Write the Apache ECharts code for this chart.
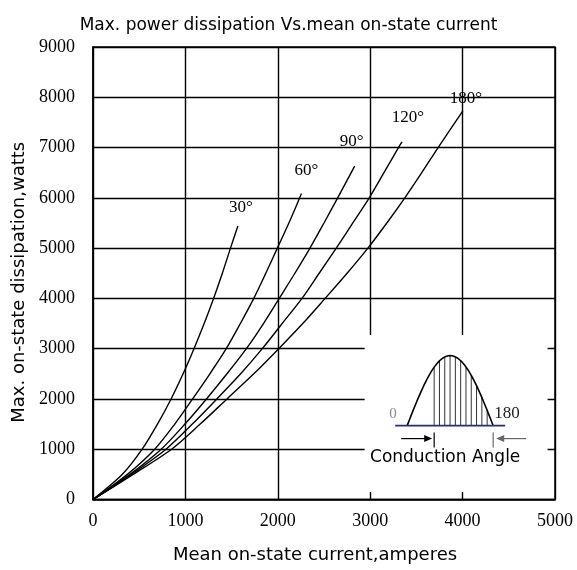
<!DOCTYPE html>
<html><head><meta charset="utf-8">
<script src="https://cdn.jsdelivr.net/npm/echarts@6/dist/echarts.min.js"></script>
<style>html,body{margin:0;padding:0;background:#fff}#c{width:577px;height:570px}</style>
</head><body><div id="c"></div>
<script>
// ---- data ----
const angleLabels = ['30°', '60°', '90°', '120°', '180°'];
const current30  = [0, 318, 532, 698, 845, 975, 1093, 1203, 1305, 1400, 1488, 1568];
const power30    = [0, 500, 1000, 1500, 2000, 2500, 3000, 3500, 4000, 4500, 5000, 5440];
const current60  = [0, 372, 668, 885, 1078, 1265, 1442, 1595, 1740, 1870, 1995, 2120, 2237, 2256];
const power60    = [0, 500, 1000, 1500, 2000, 2500, 3000, 3500, 4000, 4500, 5000, 5500, 6000, 6085];
const current90  = [0, 400, 738, 995, 1228, 1450, 1660, 1845, 2015, 2185, 2348, 2500, 2648, 2832];
const power90    = [0, 500, 1000, 1500, 2000, 2500, 3000, 3500, 4000, 4500, 5000, 5500, 6000, 6630];
const current120 = [0, 415, 790, 1075, 1340, 1598, 1832, 2047, 2262, 2448, 2633, 2812, 2990, 3149, 3306, 3344];
const power120   = [0, 500, 1000, 1500, 2000, 2500, 3000, 3500, 4000, 4500, 5000, 5500, 6000, 6500, 7000, 7113];
const current180 = [0, 435, 850, 1160, 1450, 1740, 2010, 2270, 2512, 2750, 2975, 3180, 3375, 3558, 3735, 4003];
const power180   = [0, 500, 1000, 1500, 2000, 2500, 3000, 3500, 4000, 4500, 5000, 5500, 6000, 6500, 7000, 7730];
const xTicks = [0, 1000, 2000, 3000, 4000, 5000];
const yTicks = [0, 1000, 2000, 3000, 4000, 5000, 6000, 7000, 8000, 9000];

const curves = [
  [current30, power30], [current60, power60], [current90, power90],
  [current120, power120], [current180, power180]
];
const labelOffsets = [[3, -10], [5, -15], [-3, -16], [6, -16], [3, -4]];

const serif = '"Liberation Serif", "DejaVu Serif", serif';
const sans = '"DejaVu Sans", "Liberation Sans", sans-serif';

const chart = echarts.init(document.getElementById('c'), null, {renderer: 'canvas'});

const series = curves.map(([xs, ys], k) => ({
  type: 'line',
  smooth: 0.3,
  symbol: 'none',
  lineStyle: {color: '#000', width: 1.4},
  endLabel: {
    show: true, formatter: angleLabels[k], distance: 0,
    align: 'center', verticalAlign: 'bottom', offset: labelOffsets[k],
    color: '#000', fontFamily: serif, fontSize: 17
  },
  data: xs.map((x, i) => [x, ys[i]])
}));

chart.setOption({
  animation: false,
  backgroundColor: '#fff',
  title: {
    text: 'Max. power dissipation Vs.mean on-state current',
    left: 'center', top: 12,
    textStyle: {fontFamily: sans, fontSize: 17, fontWeight: 'normal', color: '#000'}
  },
  grid: {left: 93, right: 22, top: 47, bottom: 70.5, show: true,
         borderColor: '#000', borderWidth: 1.5, backgroundColor: 'transparent'},
  xAxis: {
    type: 'value', min: xTicks[0], max: xTicks[xTicks.length - 1], interval: 1000,
    name: 'Mean on-state current,amperes', nameLocation: 'middle', nameGap: 47,
    nameTextStyle: {fontFamily: sans, fontSize: 18, color: '#000', padding: [0, 18, 0, 0]},
    axisLine: {lineStyle: {color: '#000', width: 1.5}},
    axisTick: {show: false},
    axisLabel: {margin: 13, fontFamily: serif, fontSize: 18, color: '#000',
                formatter: v => String(v), showMinLabel: true, showMaxLabel: true},
    splitLine: {lineStyle: {color: '#000', width: 1.4}}
  },
  yAxis: {
    type: 'value', min: yTicks[0], max: yTicks[yTicks.length - 1], interval: 1000,
    name: 'Max. on-state dissipation,watts', nameLocation: 'middle', nameGap: 60,
    nameTextStyle: {fontFamily: sans, fontSize: 18, color: '#000', padding: [0, 18, 0, 0]},
    axisLine: {lineStyle: {color: '#000', width: 1.5}},
    axisTick: {show: false},
    axisLabel: {margin: 18, fontFamily: serif, fontSize: 18, color: '#000',
                formatter: v => String(v)},
    splitLine: {lineStyle: {color: '#000', width: 1.4}}
  },
  series: series
});

// ---- inset diagram (conduction angle), placed via the axis scales ----
const tl = chart.convertToPixel({gridIndex: 0}, [2940, 3270]);
const br = chart.convertToPixel({gridIndex: 0}, [4920, 149]);
const org = chart.convertToPixel({gridIndex: 0}, [3400, 1470]); // start of pulse on baseline
const ox = org[0], oy = org[1];
const W = 86, H = 70;
const pts = [];
for (let i = 0; i <= 60; i++) {
  const t = i / 60;
  pts.push([ox + t * W, oy - H * Math.sin(Math.PI * t)]);
}
const hatch = [];
for (let x = ox + 27; x <= ox + W - 3; x += 5.3) {
  const t = (x - ox) / W;
  hatch.push({type: 'line', shape: {x1: x, y1: oy, x2: x, y2: oy - H * Math.sin(Math.PI * t)},
              style: {stroke: '#333', lineWidth: 1}, z: 101});
}
const g = [
  {type: 'rect', shape: {x: tl[0], y: tl[1], width: br[0] - tl[0], height: br[1] - tl[1]},
   style: {fill: '#fff'}, z: 100},
  ...hatch,
  {type: 'polyline', shape: {points: pts}, style: {stroke: '#000', lineWidth: 1.6, fill: null}, z: 102},
  {type: 'line', shape: {x1: ox - 12, y1: oy, x2: ox + W + 12, y2: oy},
   style: {stroke: '#2a2a8a', lineWidth: 1.6}, z: 103},
  {type: 'text', x: ox - 18, y: oy - 12, style: {text: '0', font: '15px ' + serif, fill: '#888',
   textAlign: 'left', textVerticalAlign: 'middle'}, z: 103},
  {type: 'text', x: ox + W + 1, y: oy - 12, style: {text: '180', font: '17px ' + serif, fill: '#222',
   textAlign: 'left', textVerticalAlign: 'middle'}, z: 103},
  // left arrow
  {type: 'line', shape: {x1: ox - 6, y1: oy + 13, x2: ox + 22, y2: oy + 13}, style: {stroke: '#000', lineWidth: 1.2}, z: 103},
  {type: 'polygon', shape: {points: [[ox + 25, oy + 13], [ox + 17, oy + 9.5], [ox + 17, oy + 16.5]]}, style: {fill: '#000'}, z: 103},
  {type: 'line', shape: {x1: ox + 27, y1: oy + 7, x2: ox + 27, y2: oy + 22}, style: {stroke: '#000', lineWidth: 1.2}, z: 103},
  // right arrow
  {type: 'line', shape: {x1: ox + W + 33, y1: oy + 13, x2: ox + W + 6, y2: oy + 13}, style: {stroke: '#666', lineWidth: 1.2}, z: 103},
  {type: 'polygon', shape: {points: [[ox + W + 3, oy + 13], [ox + W + 11, oy + 9.5], [ox + W + 11, oy + 16.5]]}, style: {fill: '#666'}, z: 103},
  {type: 'line', shape: {x1: ox + W, y1: oy + 7, x2: ox + W, y2: oy + 22}, style: {stroke: '#666', lineWidth: 1.2}, z: 103},
  {type: 'text', x: ox + 38, y: oy + 32, style: {text: 'Conduction Angle', font: '17px ' + sans, fill: '#000',
   textAlign: 'center', textVerticalAlign: 'middle'}, z: 103}
];
chart.setOption({graphic: {elements: g}});
</script>
</body></html>
